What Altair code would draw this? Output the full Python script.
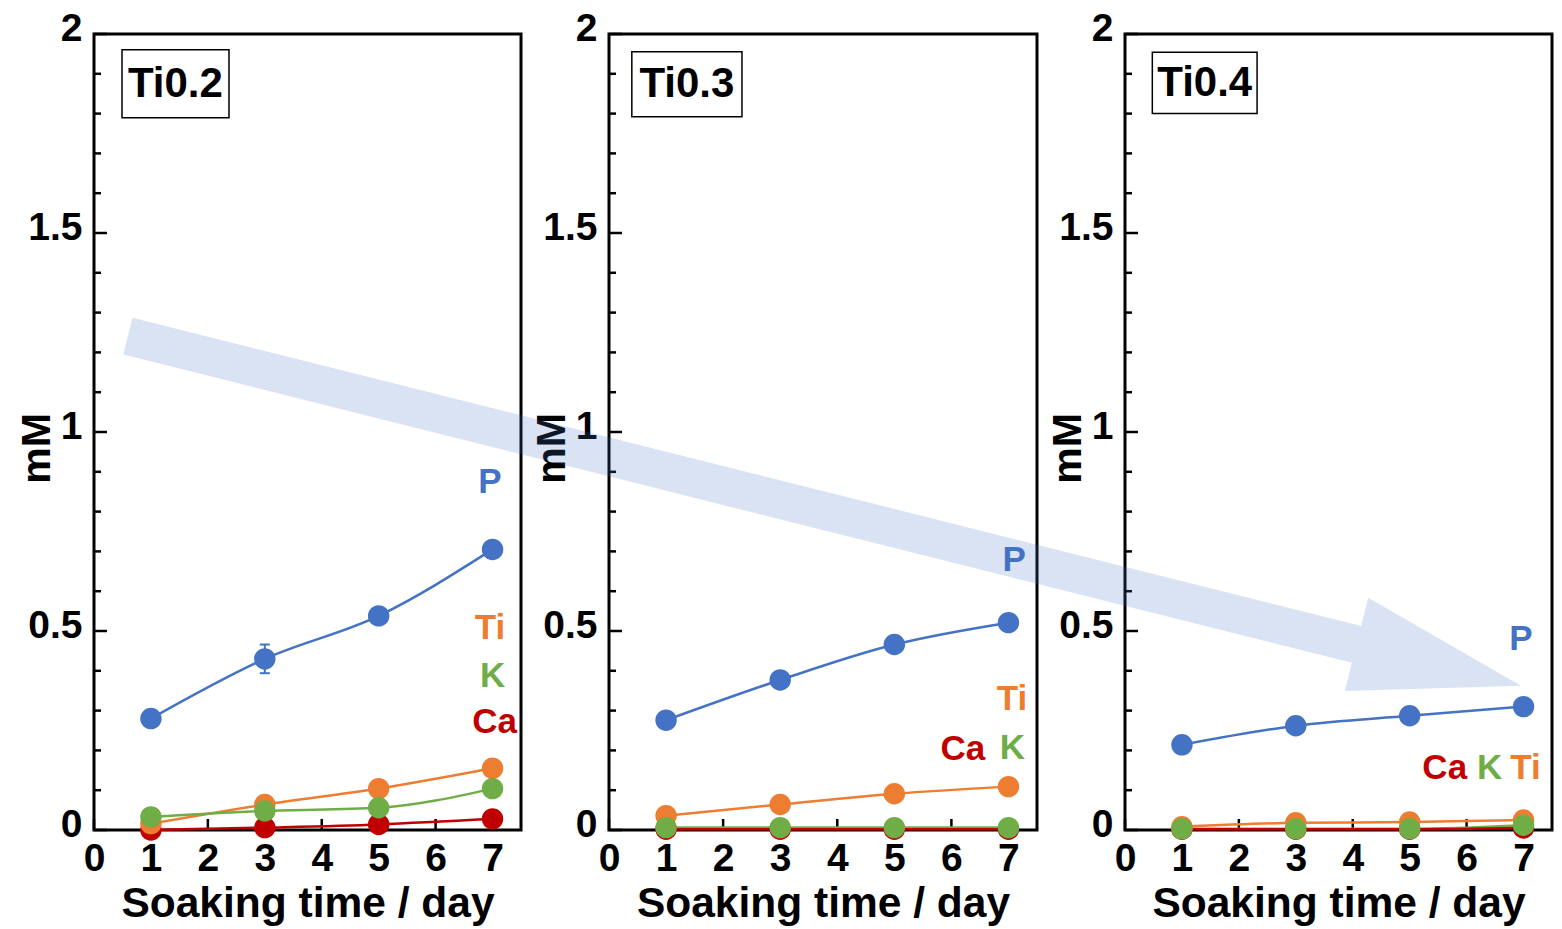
import altair as alt
import pandas as pd

# ---------------- data ----------------
days = [1, 3, 5, 7]
elements = ["P", "Ti", "K", "Ca"]
element_colors = ["#4472C4", "#ED7D31", "#70AD47", "#C00000"]
draw_rank = [3, 1, 2, 0]  # z-order of the markers (Ca lowest, P on top)

# Ti0.2
p_ti02 = [0.28, 0.43, 0.538, 0.705]
ti_ti02 = [0.016, 0.064, 0.104, 0.155]
k_ti02 = [0.033, 0.048, 0.056, 0.104]
ca_ti02 = [0.0, 0.006, 0.014, 0.028]
p_err_ti02 = [0.008, 0.036, 0.01, 0.02]

# Ti0.3
p_ti03 = [0.276, 0.377, 0.466, 0.521]
ti_ti03 = [0.036, 0.064, 0.091, 0.109]
k_ti03 = [0.006, 0.006, 0.006, 0.006]
ca_ti03 = [0.002, 0.002, 0.002, 0.002]

# Ti0.4
p_ti04 = [0.214, 0.262, 0.287, 0.31]
ti_ti04 = [0.008, 0.018, 0.02, 0.025]
k_ti04 = [0.003, 0.003, 0.003, 0.012]
ca_ti04 = [0.002, 0.002, 0.002, 0.005]

# element label positions (data coords), order P, Ti, K, Ca
lab_x_ti02 = [6.956, 6.956, 7.0, 7.035]
lab_y_ti02 = [0.875, 0.508, 0.388, 0.272]
lab_x_ti03 = [7.10, 7.06, 7.07, 6.20]
lab_y_ti03 = [0.678, 0.330, 0.206, 0.204]
lab_x_ti04 = [6.956, 7.035, 6.404, 5.616]
lab_y_ti04 = [0.479, 0.155, 0.155, 0.155]

# sample title boxes: x1, x2, y1, y2, text x, text y
box_ti02 = [0.492, 2.371, 1.9605, 1.7897, 1.43, 1.875]
box_ti03 = [0.40, 2.33, 1.9555, 1.792, 1.365, 1.874]
box_ti04 = [0.48, 2.32, 1.954, 1.80, 1.40, 1.877]

# trend arrow polygon (in Ti0.4 panel coordinates)
arrow_x = [-17.433, 4.1475, 4.272, 6.956, 3.862, 3.986, -17.594]
arrow_y = [1.2869, 0.5126, 0.5834, 0.3626, 0.3492, 0.4201, 1.1945]

x_tick_vals = [0, 1, 2, 3, 4, 5, 6, 7]
y_major_vals = [0, 0.5, 1.0, 1.5, 2.0]
y_minor_vals = [0.1, 0.2, 0.3, 0.4, 0.6, 0.7, 0.8, 0.9,
                1.1, 1.2, 1.3, 1.4, 1.6, 1.7, 1.8, 1.9]

FONT = "Liberation Sans"
H = 796
color_scale = alt.Scale(domain=elements, range=element_colors)


def panel(name, width, series, labx, laby, box, err=None, arrow=False):
    px_per_x = width / 7.5
    px_per_y = H / 2.0
    xs = alt.Scale(domain=[0, 7.5], nice=False, zero=False)
    ys = alt.Scale(domain=[0, 2], nice=False, zero=False)

    rows = []
    for el, rank, vals in zip(elements, draw_rank, series):
        for d, v in zip(days, vals):
            rows.append({"day": d, "value": v, "element": el, "rank": rank})
    df = pd.DataFrame(rows)

    x_axis = alt.Axis(values=x_tick_vals, format="d", ticks=False, tickSize=0,
                      domain=False, grid=False, labelFont=FONT, labelFontSize=39,
                      labelFontWeight="bold", labelColor="black", labelPadding=9,
                      labelFlush=False, labelOverlap=False,
                      title="Soaking time / day", titleFont=FONT, titleFontSize=42.5,
                      titleFontWeight="bold", titleColor="black",
                      titleX=width / 2, titleY=86, titleBaseline="alphabetic")
    y_axis = alt.Axis(values=y_major_vals, format="~g", ticks=False, tickSize=0,
                      domain=False, grid=False, labelFont=FONT, labelFontSize=39,
                      labelFontWeight="bold", labelColor="black", labelPadding=12,
                      labelOffset=-6, labelFlush=False, labelOverlap=False,
                      title="mM", titleFont=FONT, titleFontSize=41,
                      titleFontWeight="bold", titleColor="black",
                      titleX=-45, titleY=414, titleAngle=-90,
                      titleBaseline="alphabetic", titleAlign="center")

    base = alt.Chart(df)
    lines = base.mark_line(strokeWidth=2.5, interpolate="monotone").encode(
        x=alt.X("day:Q", scale=xs, axis=x_axis),
        y=alt.Y("value:Q", scale=ys, axis=y_axis),
        color=alt.Color("element:N", scale=color_scale, legend=None),
        detail="element:N",
    )
    points = base.mark_circle(size=460, opacity=1).encode(
        x=alt.X("day:Q", scale=xs),
        y=alt.Y("value:Q", scale=ys),
        color=alt.Color("element:N", scale=color_scale, legend=None),
        order=alt.Order("rank:Q"),
    )

    # inward ticks
    xt = pd.DataFrame({"x": x_tick_vals, "y": 0.0, "y2": 11 / px_per_y})
    xticks = alt.Chart(xt).mark_rule(color="black", strokeWidth=2.5).encode(
        x=alt.X("x:Q", scale=xs), y=alt.Y("y:Q", scale=ys), y2="y2:Q")
    yt = pd.DataFrame({"y": y_major_vals + y_minor_vals,
                       "x": 0.0,
                       "x2": [13 / px_per_x] * len(y_major_vals)
                       + [7 / px_per_x] * len(y_minor_vals)})
    yticks = alt.Chart(yt).mark_rule(color="black", strokeWidth=2.5).encode(
        y=alt.Y("y:Q", scale=ys), x=alt.X("x:Q", scale=xs), x2="x2:Q")

    bdf = pd.DataFrame([{"x1": box[0], "x2": box[1], "y1": box[2], "y2": box[3],
                         "tx": box[4], "ty": box[5], "t": name}])
    boxrect = alt.Chart(bdf).mark_rect(fill="white", stroke="black",
                                       strokeWidth=1.5).encode(
        x=alt.X("x1:Q", scale=xs), x2="x2:Q", y=alt.Y("y1:Q", scale=ys), y2="y2:Q")
    boxtext = alt.Chart(bdf).mark_text(font=FONT, fontSize=42, fontWeight="bold",
                                       color="black", baseline="middle",
                                       align="center").encode(
        x=alt.X("tx:Q", scale=xs), y=alt.Y("ty:Q", scale=ys), text="t:N")

    ldf = pd.DataFrame({"x": labx, "y": laby, "element": elements})
    labels = alt.Chart(ldf).mark_text(font=FONT, fontSize=35, fontWeight="bold",
                                      baseline="middle", align="center").encode(
        x=alt.X("x:Q", scale=xs), y=alt.Y("y:Q", scale=ys), text="element:N",
        color=alt.Color("element:N", scale=color_scale, legend=None))

    layers = [yticks, xticks, lines]
    if err is not None:
        edf = pd.DataFrame({"day": days, "lo": [v - e for v, e in zip(series[0], err)],
                            "hi": [v + e for v, e in zip(series[0], err)]})
        cap = 5 / px_per_x
        edf["c1"] = edf["day"] - cap
        edf["c2"] = edf["day"] + cap
        ebar = alt.Chart(edf).mark_rule(color="#4472C4", strokeWidth=2).encode(
            x=alt.X("day:Q", scale=xs), y=alt.Y("lo:Q", scale=ys), y2="hi:Q")
        ecap1 = alt.Chart(edf).mark_rule(color="#4472C4", strokeWidth=2).encode(
            x=alt.X("c1:Q", scale=xs), x2="c2:Q", y=alt.Y("lo:Q", scale=ys))
        ecap2 = alt.Chart(edf).mark_rule(color="#4472C4", strokeWidth=2).encode(
            x=alt.X("c1:Q", scale=xs), x2="c2:Q", y=alt.Y("hi:Q", scale=ys))
        layers += [ebar, ecap1, ecap2]
    layers += [points, boxrect, boxtext, labels]
    if arrow:
        adf = pd.DataFrame({"x": arrow_x, "y": arrow_y, "i": list(range(len(arrow_x)))})
        arr = alt.Chart(adf).mark_line(filled=True, color="#4472C4", fillOpacity=0.2,
                                       clip=False).encode(
            x=alt.X("x:Q", scale=xs), y=alt.Y("y:Q", scale=ys), order="i:Q")
        layers.append(arr)
    return alt.layer(*layers).properties(width=width, height=H)


p1 = panel("Ti0.2", 427, [p_ti02, ti_ti02, k_ti02, ca_ti02],
           lab_x_ti02, lab_y_ti02, box_ti02, err=p_err_ti02)
p2 = panel("Ti0.3", 428, [p_ti03, ti_ti03, k_ti03, ca_ti03],
           lab_x_ti03, lab_y_ti03, box_ti03)
p3 = panel("Ti0.4", 427, [p_ti04, ti_ti04, k_ti04, ca_ti04],
           lab_x_ti04, lab_y_ti04, box_ti04, arrow=True)

chart = alt.hconcat(p1, p2, p3, spacing=88, bounds="flush").properties(
    padding={"left": 14, "top": 7, "right": 5, "bottom": 5},
    background="white",
).configure_view(stroke="black", strokeWidth=3)

chart.save("out.html", embed_options={"renderer": "svg", "actions": False})
